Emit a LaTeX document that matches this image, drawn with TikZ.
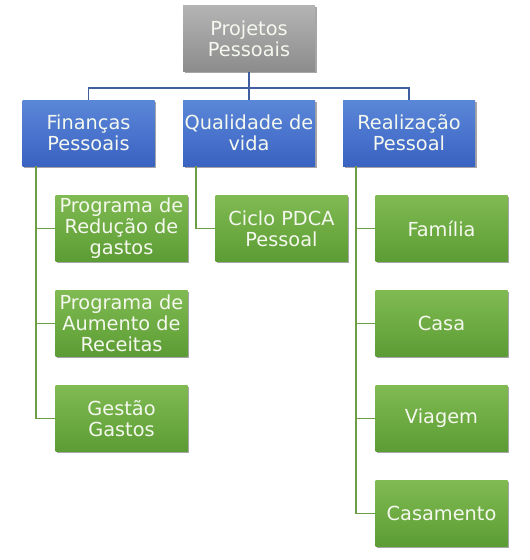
\documentclass[tikz,border=0pt]{standalone}
\usepackage{fontspec}
\setmainfont{DejaVu Sans}
\usetikzlibrary{shadows}
\definecolor{grayT}{HTML}{B4B4B4}
\definecolor{grayB}{HTML}{8C8C8C}
\definecolor{blueT}{HTML}{5B87D8}
\definecolor{blueB}{HTML}{3A62C2}
\definecolor{greenT}{HTML}{80BA52}
\definecolor{greenB}{HTML}{5C9C34}
\definecolor{blueLine}{HTML}{3F5F9E}
\definecolor{greenLine}{HTML}{6C9E45}
\definecolor{txt}{HTML}{F4F8EE}
\tikzset{
  box/.style={rectangle, minimum width=132*0.75pt, minimum height=66*0.75pt,
    inner sep=0pt, align=center, text=txt, font=\fontsize{14.5}{15.8}\selectfont,
    drop shadow={shadow xshift=1.2pt, shadow yshift=-1.2pt, opacity=0.35, fill=black}},
  rootbox/.style={box, top color=grayT, bottom color=grayB},
  bluebox/.style={box, top color=blueT, bottom color=blueB},
  greenbox/.style={box, top color=greenT, bottom color=greenB},
  bline/.style={draw=blueLine, line width=1.3pt},
  gline/.style={draw=greenLine, line width=1.3pt},
}
\begin{document}
\begin{tikzpicture}[x=0.75pt,y=-0.75pt]
\useasboundingbox (0,0) rectangle (530,560);
\node[rootbox] (root) at (249,38.5) {Projetos\\Pessoais};
\node[bluebox] (fin) at (88.5,133) {Finanças\\Pessoais};
\node[bluebox] (qual) at (249,133) {Qualidade de\\vida};
\node[bluebox] (real) at (409,133) {Realização\\Pessoal};
\node[greenbox] (f1) at (121.5,228.5) {Programa de\\Redução de\\gastos};
\node[greenbox] (f2) at (121.5,323.5) {Programa de\\Aumento de\\Receitas};
\node[greenbox] (f3) at (121.5,418.5) {Gestão\\Gastos};
\node[greenbox] (q1) at (281.5,228.5) {Ciclo PDCA\\Pessoal};
\node[greenbox] (r1) at (441.5,228.5) {Família};
\node[greenbox] (r2) at (441.5,323.5) {Casa};
\node[greenbox] (r3) at (441.5,418.5) {Viagem};
\node[greenbox] (r4) at (441.5,513.5) {Casamento};
\coordinate (hub) at (249,88);
\draw[bline] (root.south) -- (hub);
\draw[bline] (hub) -| (fin.north);
\draw[bline] (hub) -| (real.north);
\draw[bline] (hub) -- (qual.north);
\coordinate (fx) at (36,166);
\coordinate (qx) at (196,166);
\coordinate (rx) at (356,166);
\foreach \n in {f1,f2,f3} \draw[gline] (fx) |- (\n.west);
\draw[gline] (qx) |- (q1.west);
\foreach \n in {r1,r2,r3,r4} \draw[gline] (rx) |- (\n.west);
\end{tikzpicture}
\end{document}
